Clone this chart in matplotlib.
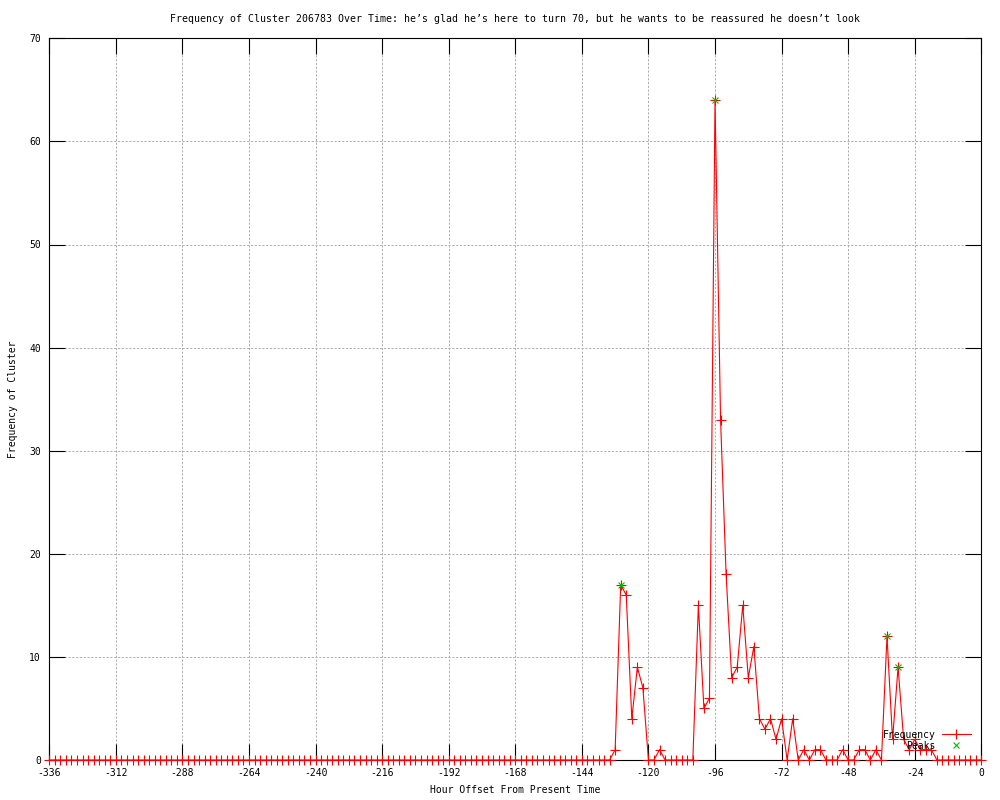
import numpy as np
import matplotlib
matplotlib.use("Agg")
import matplotlib.pyplot as plt

# horas (cada 2 h) desde -336 hasta 0
hours = np.arange(-336, 1, 2)

# frecuencia por bin de 2 horas, filas de 24 h
freq = [
    0, 0, 0, 0, 0, 0, 0, 0, 0, 0, 0, 0,      # -336 .. -314
    0, 0, 0, 0, 0, 0, 0, 0, 0, 0, 0, 0,      # -312 .. -290
    0, 0, 0, 0, 0, 0, 0, 0, 0, 0, 0, 0,      # -288 .. -266
    0, 0, 0, 0, 0, 0, 0, 0, 0, 0, 0, 0,      # -264 .. -242
    0, 0, 0, 0, 0, 0, 0, 0, 0, 0, 0, 0,      # -240 .. -218
    0, 0, 0, 0, 0, 0, 0, 0, 0, 0, 0, 0,      # -216 .. -194
    0, 0, 0, 0, 0, 0, 0, 0, 0, 0, 0, 0,      # -192 .. -170
    0, 0, 0, 0, 0, 0, 0, 0, 0, 0, 0, 0,      # -168 .. -146
    0, 0, 0, 0, 0, 0, 1, 17, 16, 4, 9, 7,    # -144 .. -122
    0, 0, 1, 0, 0, 0, 0, 0, 0, 15, 5, 6,     # -120 .. -98
    64, 33, 18, 8, 9, 15, 8, 11, 4, 3, 4, 2, # -96 .. -74
    4, 0, 4, 0, 1, 0, 1, 1, 0, 0, 0, 1,      # -72 .. -50
    0, 0, 1, 1, 0, 1, 0, 12, 2, 9, 2, 1,     # -48 .. -26
    2, 1, 1, 1, 0, 0, 0, 0, 0, 0, 0, 0,      # -24 .. -2
    0,                                       # 0
]

peak_hours = [-130, -96, -34, -30]
peak_vals = [17, 64, 12, 9]

xticks = np.arange(-336, 1, 24)
yticks = np.arange(0, 71, 10)

title = ("Frequency of Cluster 206783 Over Time: he\u2019s glad he\u2019s here to turn 70, "
         "but he wants to be reassured he doesn\u2019t look")

plt.rcParams['font.family'] = ['DejaVu Sans Mono']
plt.rcParams['font.size'] = 7
plt.rcParams['axes.unicode_minus'] = False

fig = plt.figure(figsize=(10, 8), dpi=100)
ax = fig.add_axes([49.3/1000, 1 - 760/800, (981.3 - 49.3)/1000, (760 - 38.3)/800])

ax.plot(hours, freq, color='#ff0000', lw=0.8, marker='+', ms=6.5, mew=0.8,
        label='Frequency', clip_on=False, zorder=3)
ax.plot(peak_hours, peak_vals, ls='none', color='#00c000', marker='x', ms=5,
        mew=0.8, label='Peaks', clip_on=False, zorder=4)

ax.set_xlim(-336, 0)
ax.set_ylim(0, 70)
ax.set_xticks(xticks)
ax.set_yticks(yticks)
ax.grid(True, color='#b0b0b0', lw=0.72, linestyle=(0, (2.2, 1.6)))
ax.set_axisbelow(True)
ax.tick_params(direction='in', length=11.5, width=0.8, top=True, right=True,
               labelsize=7, pad=6, colors='black')
for s in ax.spines.values():
    s.set_linewidth(0.8)

ax.set_title(title, fontsize=7.1, pad=12)
ax.set_xlabel('Hour Offset From Present Time', fontsize=7, labelpad=5)
ax.set_ylabel('Frequency of Cluster', fontsize=7, labelpad=8)

leg = ax.legend(loc='lower right', bbox_to_anchor=(0.995, 0.005), frameon=False,
                markerfirst=False, handlelength=3.0, labelspacing=0.1,
                handletextpad=0.6, borderaxespad=0.2, fontsize=7)

fig.savefig('out.png', dpi=100)
